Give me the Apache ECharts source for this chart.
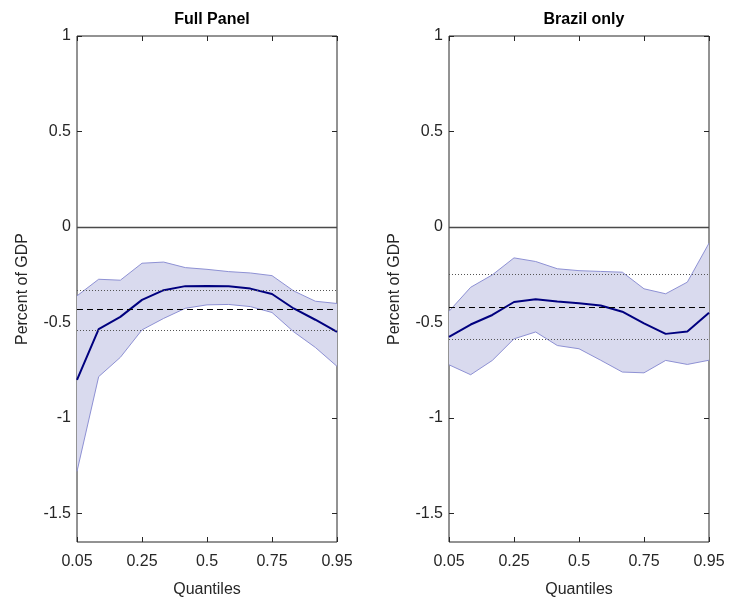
<!DOCTYPE html>
<html>
<head>
<meta charset="utf-8">
<script src="https://cdn.jsdelivr.net/npm/echarts@6/dist/echarts.min.js"></script>
<style>
html,body{margin:0;padding:0;background:#fff;}
#chart{width:731px;height:603px;}
</style>
</head>
<body>
<div id="chart"></div>
<script>
// Quantile grid index (13 estimated quantiles), labelled ticks every 3 steps
const xIndex = [0,1,2,3,4,5,6,7,8,9,10,11,12];
const xTickLabels = ['0.05','0.25','0.5','0.75','0.95'];
const yTicks = [-1.5,-1,-0.5,0,0.5,1];
const panelTitles = ['Full Panel','Brazil only'];

// Full Panel
const fullMid   = [-0.801,-0.535,-0.471,-0.382,-0.331,-0.310,-0.309,-0.311,-0.323,-0.351,-0.427,-0.486,-0.549];
const fullUpper = [-0.361,-0.274,-0.279,-0.190,-0.184,-0.213,-0.222,-0.234,-0.241,-0.255,-0.335,-0.389,-0.401];
const fullLower = [-1.280,-0.784,-0.683,-0.539,-0.479,-0.426,-0.408,-0.406,-0.417,-0.448,-0.549,-0.631,-0.730];
const fullRef   = [-0.432,-0.330,-0.544]; // mean (dashed), upper/lower (dotted)

// Brazil only
const brMid   = [-0.576,-0.511,-0.461,-0.393,-0.379,-0.391,-0.400,-0.411,-0.444,-0.505,-0.560,-0.548,-0.449];
const brUpper = [-0.442,-0.316,-0.251,-0.162,-0.181,-0.219,-0.229,-0.233,-0.237,-0.324,-0.350,-0.289,-0.085];
const brLower = [-0.722,-0.774,-0.699,-0.586,-0.550,-0.621,-0.638,-0.698,-0.760,-0.764,-0.699,-0.720,-0.698];
const brRef   = [-0.418,-0.251,-0.586];

const panels = [
  {mid: fullMid, upper: fullUpper, lower: fullLower, ref: fullRef},
  {mid: brMid, upper: brUpper, lower: brLower, ref: brRef}
];

const textColor = '#262626';
const font = 'Liberation Sans, Arial, Helvetica, sans-serif';
const gridLefts = [77, 449];
const gridW = 260;

const grids = [], xAxes = [], yAxes = [], series = [], titles = [];
panels.forEach((p, k) => {
  grids.push({left: gridLefts[k], top: 36, width: gridW, height: 507,
    show: true, borderColor: textColor, borderWidth: 1, backgroundColor: 'transparent'});
  titles.push({text: panelTitles[k], left: gridLefts[k] + gridW/2, top: 7, textAlign: 'center',
    textStyle: {fontFamily: font, fontSize: 16, fontWeight: 'bold', color: '#000'}});
  const tick = {inside: true, length: 5, lineStyle: {color: textColor}};
  const xBase = {type: 'value', gridIndex: k, min: 0, max: 12, interval: 3,
    splitLine: {show: false}, axisLine: {show: false, onZero: false}};
  xAxes.push(Object.assign({}, xBase, {position: 'bottom',
    name: 'Quantiles', nameLocation: 'middle', nameGap: 40,
    nameTextStyle: {fontFamily: font, fontSize: 16, color: textColor},
    axisTick: tick,
    axisLabel: {fontFamily: font, fontSize: 16, color: textColor, margin: 12,
      formatter: v => xTickLabels[Math.round(v/3)]}}));
  xAxes.push(Object.assign({}, xBase, {position: 'top', axisTick: tick, axisLabel: {show: false}}));
  const yBase = {type: 'value', gridIndex: k, min: -1.65, max: 1,
    splitLine: {show: false}, axisLine: {show: false, onZero: false}};
  yAxes.push(Object.assign({}, yBase, {position: 'left',
    name: 'Percent of GDP', nameLocation: 'middle', nameGap: 46, nameRotate: 90,
    nameTextStyle: {fontFamily: font, fontSize: 16, color: textColor},
    axisTick: Object.assign({customValues: yTicks}, tick),
    axisLabel: {fontFamily: font, fontSize: 16, color: textColor, margin: 6, customValues: yTicks}}));
  yAxes.push(Object.assign({}, yBase, {position: 'right',
    axisTick: Object.assign({customValues: yTicks}, tick),
    axisLabel: {show: false}}));

  const xi = 2*k, yi = 2*k;
  // shaded confidence band as one polygon through the axes' scales
  series.push({type: 'custom', xAxisIndex: xi, yAxisIndex: yi, silent: true, z: 1,
    data: xIndex.map(i => [i, p.upper[i], p.lower[i]]),
    renderItem: (params, api) => {
      if (params.dataIndex !== 0) return null;
      const pts = [];
      xIndex.forEach(i => pts.push(api.coord([i, p.upper[i]])));
      for (let j = xIndex.length - 1; j >= 0; j--) pts.push(api.coord([xIndex[j], p.lower[xIndex[j]]]));
      return {type: 'polygon', shape: {points: pts}, style: {fill: '#d9daee', stroke: null}};
    }});
  series.push({type: 'line', xAxisIndex: xi, yAxisIndex: yi,
    data: xIndex.map(i => [i, p.upper[i]]), symbol: 'none',
    lineStyle: {color: '#8e91d4', width: 1}, silent: true, z: 2});
  series.push({type: 'line', xAxisIndex: xi, yAxisIndex: yi,
    data: xIndex.map(i => [i, p.lower[i]]), symbol: 'none',
    lineStyle: {color: '#8e91d4', width: 1}, silent: true, z: 2,
    markLine: {silent: true, symbol: ['none','none'], label: {show: false},
      data: [
        {yAxis: 0, lineStyle: {color: '#4a4a4a', width: 1.3, type: 'solid'}},
        {yAxis: p.ref[0], lineStyle: {color: '#000', width: 1, type: [6,4]}},
        {yAxis: p.ref[1], lineStyle: {color: '#555', width: 1, type: [1,2]}},
        {yAxis: p.ref[2], lineStyle: {color: '#555', width: 1, type: [1,2]}}
      ]}});
  series.push({type: 'line', xAxisIndex: xi, yAxisIndex: yi,
    data: xIndex.map(i => [i, p.mid[i]]), symbol: 'none',
    lineStyle: {color: '#00007f', width: 2}, silent: true, z: 4});
});

const chart = echarts.init(document.getElementById('chart'), null, {renderer: 'canvas'});
chart.setOption({
  animation: false,
  backgroundColor: '#fff',
  title: titles,
  grid: grids,
  xAxis: xAxes,
  yAxis: yAxes,
  series: series
});
</script>
</body>
</html>
